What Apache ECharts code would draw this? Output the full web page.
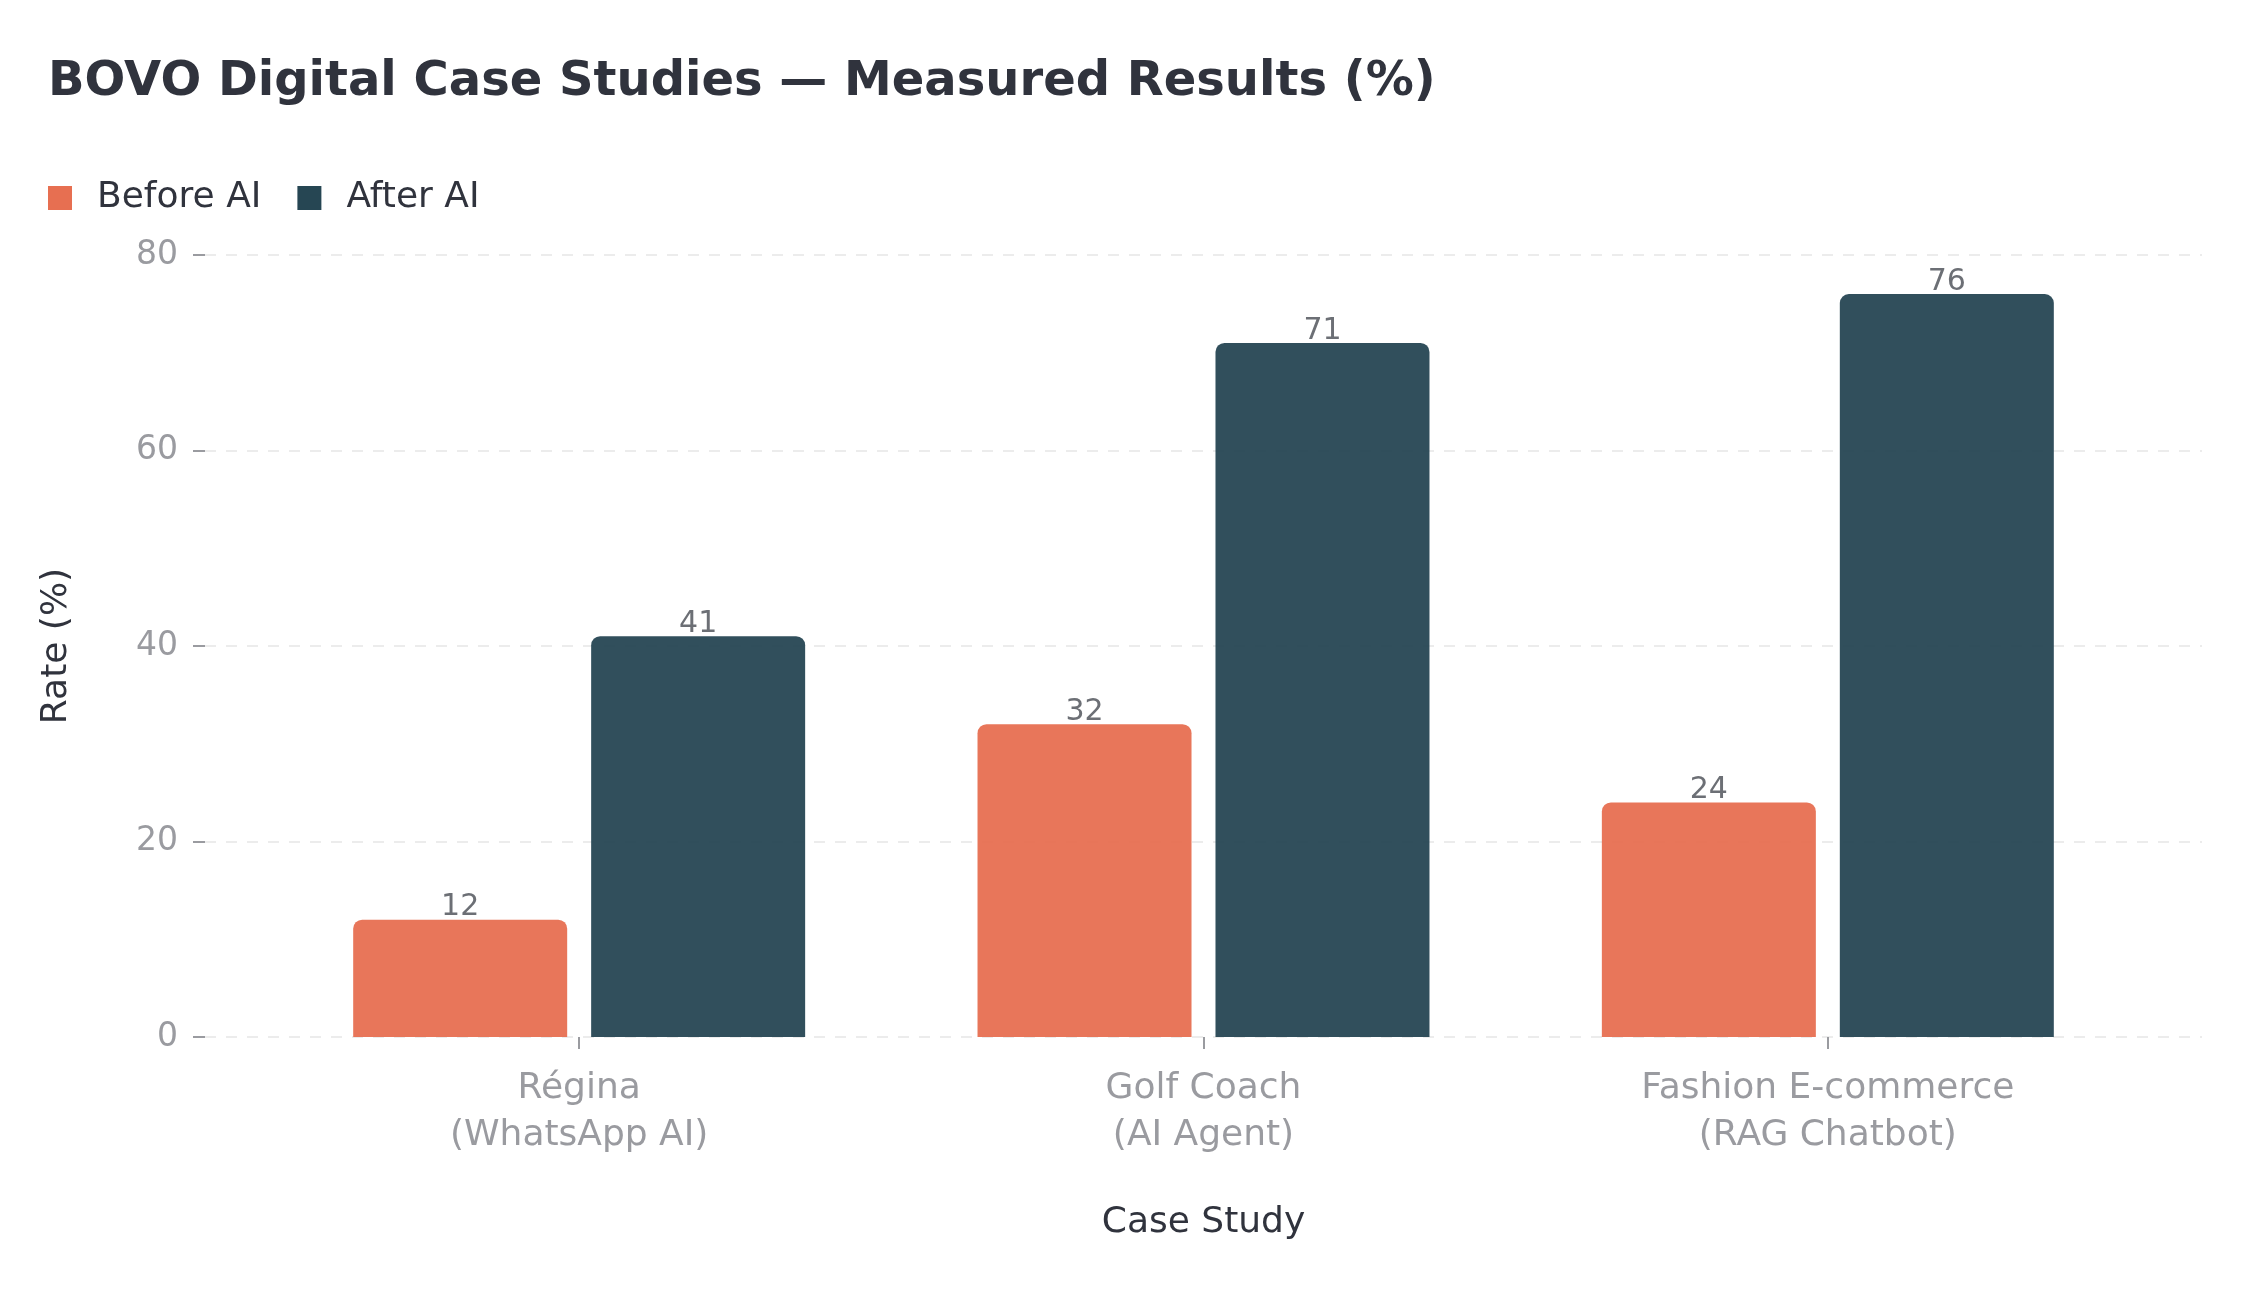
<!DOCTYPE html>
<html>
<head>
<meta charset="utf-8">
<script src="https://cdn.jsdelivr.net/npm/echarts@6/dist/echarts.min.js"></script>
<style>
  html, body { margin: 0; padding: 0; background: #fff; }
  #chart { width: 2250px; height: 1290px; }
</style>
</head>
<body>
<div id="chart"></div>
<script>
const caseStudies = ['Régina\n(WhatsApp AI)', 'Golf Coach\n(AI Agent)', 'Fashion E-commerce\n(RAG Chatbot)'];
const beforeAI = [12, 32, 24];
const afterAI = [41, 71, 76];
const seriesNames = ['Before AI', 'After AI'];

const FONT = 'DejaVu Sans';
const DARK_TEXT = '#30333d';
const GREY_TEXT = '#9a9ba0';

const chart = echarts.init(document.getElementById('chart'));

// 柱子样式：带透明度，图例用纯色
const barSeries = (name, data, rgba) => ({
  name: name,
  type: 'bar',
  xAxisIndex: 1,
  yAxisIndex: 1,
  data: data,
  barWidth: 214,
  barGap: '11.2%',
  itemStyle: {
    color: rgba,
    borderRadius: [9, 9, 0, 0]
  },
  label: {
    show: true,
    position: 'top',
    distance: 0,
    offset: [0, 3],
    color: '#6c6f75',
    fontFamily: FONT,
    fontSize: 30
  }
});

const option = {
  backgroundColor: '#fff',
  animation: false,
  title: {
    text: 'BOVO Digital Case Studies — Measured Results (%)',
    left: 48,
    top: 59,
    padding: 0,
    textStyle: {
      fontFamily: FONT,
      fontWeight: 'bold',
      fontSize: 48,
      color: DARK_TEXT
    }
  },
  legend: {
    left: 48,
    top: 180,
    padding: 0,
    itemWidth: 24,
    itemHeight: 24,
    itemGap: 36,
    icon: 'rect',
    textStyle: {
      fontFamily: FONT,
      fontSize: 36,
      color: DARK_TEXT,
      padding: [0, 0, 0, 20]
    },
    data: [
      { name: seriesNames[0], itemStyle: { color: '#E76F51', opacity: 1 } },
      { name: seriesNames[1], itemStyle: { color: '#264653', opacity: 1 } }
    ]
  },
  grid: [
    { left: 205, right: 48, top: 255, bottom: 253 },   // 网格线和 y 轴
    { left: 267, right: 110, top: 255, bottom: 253 }   // 柱子
  ],
  xAxis: [
    {
      type: 'category',
      gridIndex: 0,
      data: caseStudies,
      show: false
    },
    {
      type: 'category',
      gridIndex: 1,
      data: caseStudies,
      name: 'Case Study',
      nameLocation: 'middle',
      nameGap: 168,
      nameTextStyle: { fontFamily: FONT, fontSize: 36, color: DARK_TEXT },
      axisLine: { show: false },
      axisTick: {
        show: true,
        alignWithLabel: true,
        length: 12,
        lineStyle: { color: '#9a9ba0', width: 2 }
      },
      axisLabel: {
        margin: 28,
        fontFamily: FONT,
        fontSize: 36,
        lineHeight: 47,
        color: GREY_TEXT
      },
      splitLine: { show: false }
    }
  ],
  yAxis: [
    {
      type: 'value',
      gridIndex: 0,
      min: 0,
      max: 80,
      interval: 20,
      name: 'Rate (%)',
      nameLocation: 'middle',
      nameGap: 130,
      nameTextStyle: { fontFamily: FONT, fontSize: 36, color: DARK_TEXT },
      axisLine: { show: false },
      axisTick: {
        show: true,
        length: 12,
        lineStyle: { color: '#9a9ba0', width: 2 }
      },
      axisLabel: {
        margin: 27,
        fontFamily: FONT,
        fontSize: 33,
        color: GREY_TEXT
      },
      splitLine: {
        show: true,
        lineStyle: { color: '#e6e6e6', width: 1.5, type: [11, 10] }
      }
    },
    {
      type: 'value',
      gridIndex: 1,
      min: 0,
      max: 80,
      interval: 20,
      show: false,
      splitLine: { show: false }
    }
  ],
  series: [
    barSeries(seriesNames[0], beforeAI, 'rgba(231,111,81,0.95)'),
    barSeries(seriesNames[1], afterAI, 'rgba(38,70,83,0.95)')
  ]
};

chart.setOption(option);
</script>
</body>
</html>
